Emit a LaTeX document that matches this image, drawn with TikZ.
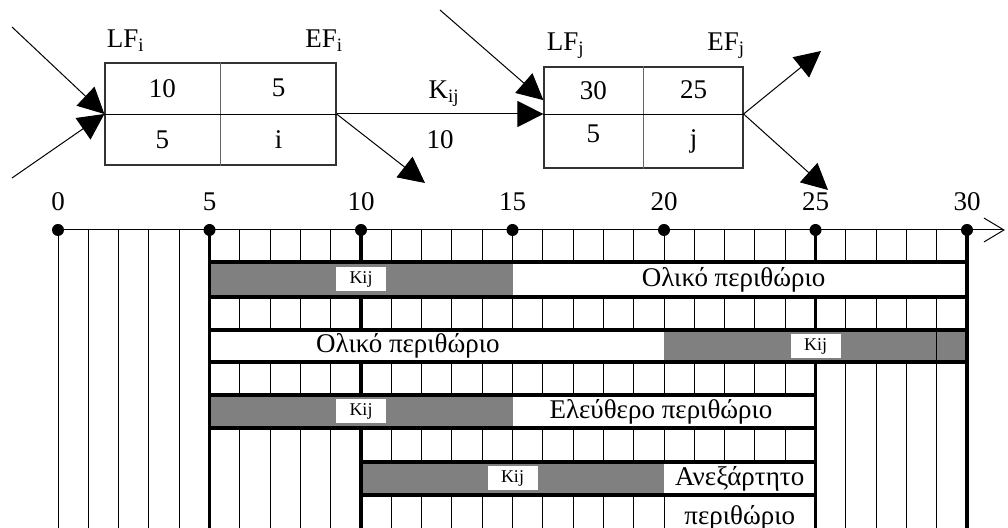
\documentclass[tikz,border=0pt]{standalone}
\usepackage{fontspec}
\setmainfont{Liberation Serif}
\usetikzlibrary{positioning,calc,arrows.meta}
\definecolor{bargrey}{RGB}{128,128,128}

\begin{document}
\begin{tikzpicture}[
  x=0.5pt, y=-0.5pt,
  font=\fontsize{13.5}{16}\selectfont,
  actbox/.style={
    draw=black!80,
    line width=0.6pt,
    inner sep=0pt
  },
  tag/.style={inner sep=0pt},
  arrow/.style={-{Triangle[length=13pt,width=13pt]}, line width=0.5pt},
  thinline/.style={line width=0.5pt},
  thickline/.style={line width=1.9pt},
  barframe/.style={draw, line width=1.9pt},
  dot/.style={circle, fill=black, inner sep=0pt, minimum size=6pt},
  kij/.style={
    fill=white,
    inner sep=0pt,
    minimum width=25pt,
    minimum height=12pt,
    font=\fontsize{9}{10}\selectfont
  }
]
\useasboundingbox (0,0) rectangle (1008,528);

% --------------------
% Activity i
% --------------------
\node[actbox, minimum width=115.5pt, minimum height=51pt] (boxi) at (220.5,114) {};
\draw[black!60] (boxi.north) -- (boxi.south);
\draw (boxi.west) -- (boxi.east);
\node at ($(boxi.north west)!0.5!(boxi.center)$) {10};
\node at ($(boxi.north east)!0.5!(boxi.center)$) {5};
\node at ($(boxi.south west)!0.5!(boxi.center)$) {5};
\node at ($(boxi.south east)!0.5!(boxi.center)$) {i};
\node[tag, above right=5pt and 1pt of boxi.north west] (lfi) {LF\textsubscript{i}};
\node[tag, above left=5pt and -3.5pt of boxi.north east] (efi) {EF\textsubscript{i}};

% --------------------
% Activity j
% --------------------
\node[actbox, minimum width=99.5pt, minimum height=50.5pt] (boxj) at (643.5,117.5) {};
\coordinate (jmidw) at (boxj.west |- boxi.east);
\coordinate (jmide) at (boxj.east |- boxi.east);
\coordinate (jmidc) at (boxj.north |- boxi.east);
\draw[black!60] (boxj.north) -- (boxj.south);
\draw (jmidw) -- (jmide);
\node at ($(boxj.north west)!0.5!(jmidc)$) {30};
\node at ($(boxj.north east)!0.5!(jmidc)$) {25};
\node[yshift=4pt] at ($(boxj.south west)!0.5!(jmidc)$) {5};
\node at ($(boxj.south east)!0.5!(jmidc)$) {j};
\node[tag, above right=3.5pt and 1.5pt of boxj.north west] (lfj) {LF\textsubscript{j}};
\node[tag, above left=3.5pt and -1pt of boxj.north east] (efj) {EF\textsubscript{j}};

% --------------------
% Arrows
% --------------------
\coordinate (srci1) at (12,27);
\coordinate (srci2) at (12,178);
\coordinate (dsti) at (425,183);
\coordinate (srcj) at (440,10);
\coordinate (dstj1) at (821,51);
\coordinate (dstj2) at (828,190);
\coordinate (jin) at ($(boxj.north west)!0.33!(boxj.south west)$);

\draw[arrow] (srci1) -- (boxi.west);
\draw[arrow] (srci2) -- (boxi.west);
\draw[arrow] (boxi.east) -- (dsti);
\draw[arrow] (boxi.east) -- node[above, pos=0.52] {K\textsubscript{ij}}
  node[below=4.5pt, pos=0.5] {10} (jmidw);
\draw[arrow] (srcj) -- (jin);
\draw[arrow] (jmide) -- (dstj1);
\draw[arrow] (jmide) -- (dstj2);

% --------------------
% Time scale
% --------------------
\begin{scope}[shift={(58,230)}, x=15.15pt]
\foreach \t in {0,...,29}
  \draw[thinline] (\t,0) -- (\t,298);
\foreach \t in {5,10,25,30}
  \draw[thickline] (\t,0) -- (\t,298);

% total float, Kij first
\fill[bargrey] (5,32) rectangle (15,67);
\fill[white] (15,32) rectangle (30,67);
\draw[barframe] (5,32) rectangle (30,67);
\node[kij] (kij1) at (10,49.5) {Kij};
\node (tot1) at (22.3,49.5) {Ολικό περιθώριο};

% total float, Kij last
\fill[white] (5,100) rectangle (20,132);
\fill[bargrey] (20,100) rectangle (30,132);
\draw[thinline] (29,100) -- (29,132);
\draw[barframe] (5,100) rectangle (30,132);
\node[kij] (kij2) at (25,116) {Kij};
\node (tot2) at (11.55,116) {Ολικό περιθώριο};

% free float
\fill[bargrey] (5,165) rectangle (15,198);
\fill[white] (15,165) rectangle (25,198);
\draw[barframe] (5,165) rectangle (25,198);
\node[kij] (kij3) at (10,181.5) {Kij};
\node (free) at (19.9,181.5) {Ελεύθερο περιθώριο};

% independent float
\fill[bargrey] (10,232) rectangle (20,265);
\fill[white] (20,232) rectangle (25,265);
\fill[white] (20.12,267) rectangle (24.88,300);
\draw[barframe] (10,232) rectangle (25,265);
\node[kij] (kij4) at (15,248.5) {Kij};
\node (indep) at (22.5,248.5) {Ανεξάρτητο};
\node[below=0pt of indep] (indep2) {περιθώριο};

% axis
\foreach \t in {0,5,...,30} {
  \node[dot] (t\t) at (\t,0) {};
  \node[above=3pt of t\t] {\t};
}
\coordinate (tend) at (31.25,0);
\draw[thinline, -{Straight Barb[length=10pt,width=12pt]}] (t0) -- (tend);
\end{scope}

\end{tikzpicture}
\end{document}
